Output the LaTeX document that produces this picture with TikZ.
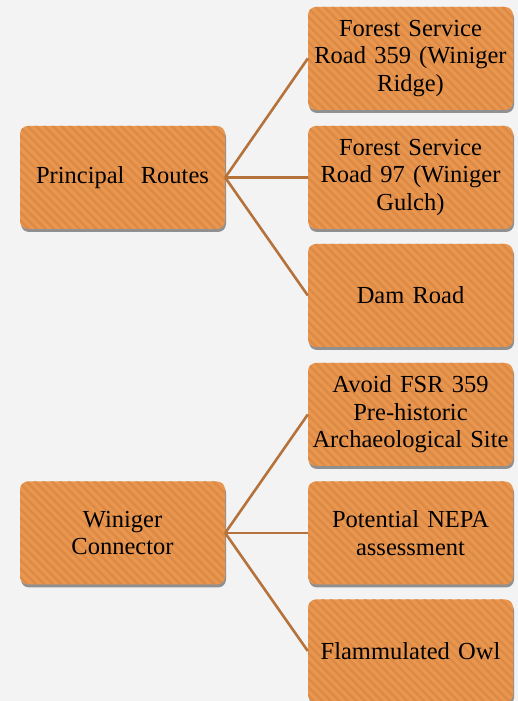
\documentclass[tikz,border=0pt]{standalone}
\usepackage{fontspec}
\setmainfont{Liberation Serif}
\usetikzlibrary{shadows,patterns.meta}
\definecolor{boxorange}{HTML}{E9964F}
\definecolor{stripeorange}{HTML}{DC8A46}
\definecolor{linkbrown}{HTML}{B5723A}
\definecolor{paper}{HTML}{F3F3F3}
\tikzset{
  topic/.style={rounded corners=8pt, fill=boxorange, inner sep=0pt,
    minimum width=205pt, minimum height=103pt, text width=205pt, align=center,
    font=\fontsize{24.5}{27.5}\selectfont, text=black,
    drop shadow={shadow xshift=1pt, shadow yshift=-3pt, opacity=0.55, fill=black!75},
    postaction={pattern={Lines[angle=-45,distance=6pt,line width=2.4pt]}, pattern color=stripeorange}},
  link/.style={linkbrown, line width=2.6pt}
}
\begin{document}
\begin{tikzpicture}[x=1pt,y=1pt]
    \fill[paper] (0,0) rectangle (518,701);
    \useasboundingbox (0,0) rectangle (518,701);
    %% principal routes
    \node[topic] (routes) at (122.5,523.5) {Principal\ \ Routes};
    \node[topic] (fsr359) at (410.5,642.5) {Forest Service\\Road 359 (Winiger\\Ridge)};
    \node[topic] (fsr97) at (410.5,523.5) {Forest Service\\Road 97 (Winiger\\Gulch)};
    \node[topic] (dam) at (410.5,405.5) {Dam Road};
    \foreach \n in {fsr359,fsr97,dam} \draw[link] (routes.east) -- (\n.west);
    %% winiger connector
    \node[topic] (connector) at (122.5,168) {Winiger\\Connector};
    \node[topic] (avoid) at (410.5,286.5) {Avoid FSR 359\\Pre-historic\\Archaeological Site};
    \node[topic] (nepa) at (410.5,168) {Potential NEPA\\assessment};
    \node[topic] (owl) at (410.5,50) {Flammulated Owl};
    \foreach \n in {avoid,nepa,owl} \draw[link] (connector.east) -- (\n.west);
\end{tikzpicture}
\end{document}
